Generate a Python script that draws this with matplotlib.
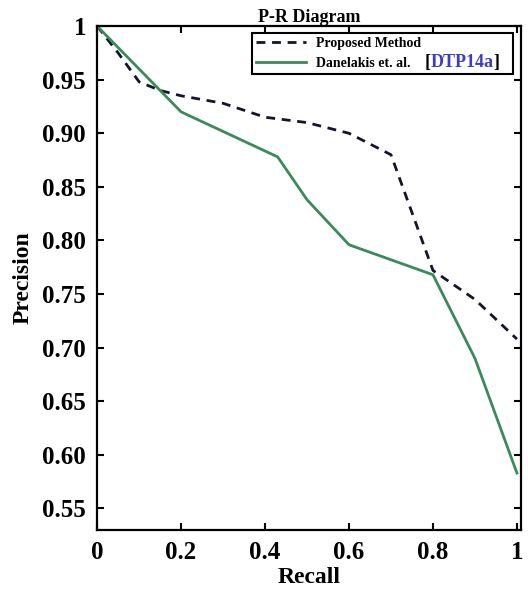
import matplotlib.pyplot as plt

plt.rcParams['font.family'] = ['Liberation Serif', 'DejaVu Serif']
plt.rcParams['font.weight'] = 'bold'

recall_prop = [0, 0.05, 0.1, 0.15, 0.2, 0.3, 0.4, 0.5, 0.6, 0.7, 0.8, 0.9, 1.0]
prec_prop = [1.0, 0.975, 0.948, 0.94, 0.935, 0.928, 0.915, 0.91, 0.9, 0.88, 0.772, 0.745, 0.708]

recall_dan = [0, 0.2, 0.43, 0.5, 0.6, 0.8, 0.9, 1.0]
prec_dan = [1.0, 0.92, 0.878, 0.838, 0.796, 0.768, 0.69, 0.583]

xticks = [0, 0.2, 0.4, 0.6, 0.8, 1.0]
xtick_labels = ['0', '0.2', '0.4', '0.6', '0.8', '1']
yticks = [0.55, 0.60, 0.65, 0.70, 0.75, 0.80, 0.85, 0.90, 0.95, 1.0]
ytick_labels = ['0.55', '0.60', '0.65', '0.70', '0.75', '0.80', '0.85', '0.90', '0.95', '1']

fig = plt.figure(figsize=(5.28, 5.94), dpi=100)
ax = fig.add_axes([0.184, 0.108, 0.803, 0.848])

ax.plot(recall_prop, prec_prop, color='#15152a', lw=2, ls=(0, (3.2, 2.4)),
        label='Proposed Method')
ax.plot(recall_dan, prec_dan, color='#3a8a5c', lw=2,
        label='Danelakis et. al.')

ax.set_xlim(0, 1.01)
ax.set_ylim(0.53, 1.0)
ax.set_xticks(xticks)
ax.set_xticklabels(xtick_labels)
ax.set_yticks(yticks)
ax.set_yticklabels(ytick_labels)
ax.tick_params(direction='in', length=5, width=1.5, labelsize=18, pad=8,
               top=True, right=True)
for s in ax.spines.values():
    s.set_linewidth(1.6)

ax.set_xlabel('Recall', fontsize=17, fontweight='bold', labelpad=2)
ax.set_ylabel('Precision', fontsize=17, fontweight='bold', labelpad=6)
ax.set_title('P-R Diagram', fontsize=13, fontweight='bold', pad=3)

leg = ax.legend(loc='upper right', bbox_to_anchor=(0.366, 0.893, 0.615, 0.093),
                mode='expand', fontsize=10,
                fancybox=False, edgecolor='black', framealpha=1,
                handlelength=3.6, handletextpad=0.7, borderaxespad=0,
                borderpad=0.3, labelspacing=0.45)
leg.get_frame().set_linewidth(1.5)

# coloured citation after the second legend entry
lab = leg.get_texts()[1]
t1 = ax.annotate('[', xy=(1, 0), xycoords=lab, xytext=(10, -1),
                 textcoords='offset points', fontsize=13, color='black',
                 va='bottom', zorder=10)
t2 = ax.annotate('DTP14a', xy=(1, 0), xycoords=t1, fontsize=13,
                 color='#3c3cc8', va='bottom', zorder=10)
ax.annotate(']', xy=(1, 0), xycoords=t2, fontsize=13, color='black',
            va='bottom', zorder=10)

fig.savefig('out.png', dpi=100)
